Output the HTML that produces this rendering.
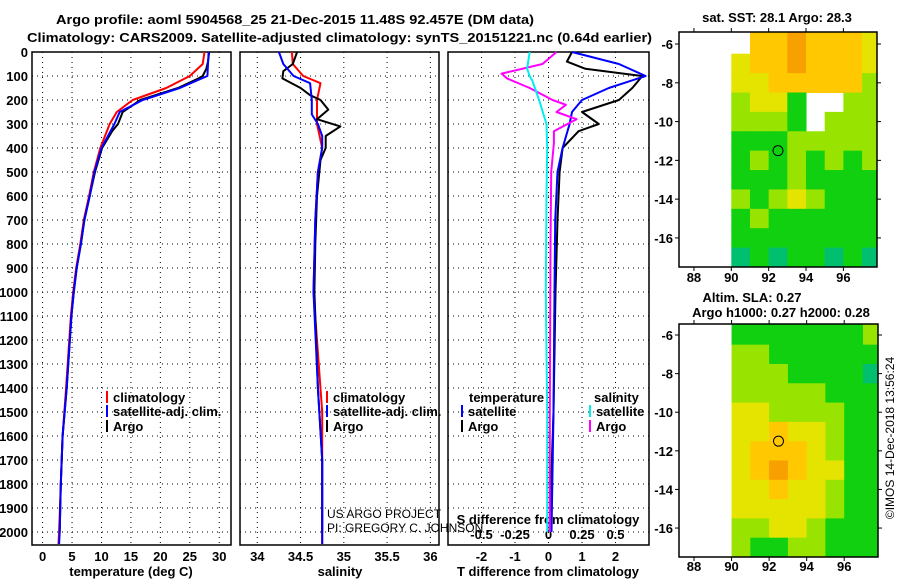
<!DOCTYPE html>
<html><head><meta charset="utf-8"><style>
html,body{margin:0;padding:0;background:#fff;}
svg{display:block;font-family:"Liberation Sans",Arial,sans-serif;}
.b{font-weight:bold;font-size:13px;}
</style></head><body>
<svg id="s" width="900" height="580" viewBox="0 0 900 580">
<text class="b" x="56" y="24" font-size="14" textLength="478" lengthAdjust="spacingAndGlyphs">Argo profile: aoml 5904568_25 21-Dec-2015 11.48S 92.457E (DM data)</text>
<text class="b" x="27" y="42" font-size="14" textLength="625" lengthAdjust="spacingAndGlyphs">Climatology: CARS2009. Satellite-adjusted climatology: synTS_20151221.nc (0.64d earlier)</text>
</svg>
<script>
// ---------- data ----------
const depthTicks=[0,100,200,300,400,500,600,700,800,900,1000,1100,1200,1300,1400,1500,1600,1700,1800,1900,2000];
const tempTicks=[0,5,10,15,20,25,30];
const salTicks=[34,34.5,35,35.5,36];
const tdiffTicks=[-2,-1,0,1,2];
const sdiffTicks=[-0.5,-0.25,0,0.25,0.5];
const sdiffTickLabels=["-0.5","-0.25","0","0.25","0.5"];
// temperature profiles
const tClimDepth=[0,50,100,150,200,250,300,400,500,600,700,800,900,1000,1100,1400,1600,1800,2000,2050];
const tClim=[27.5,27.2,25,21,15.3,12.6,11.4,9.8,8.7,7.9,7.0,6.4,5.7,5.2,4.8,4.0,3.4,3.1,2.8,2.7];
const tSatDepth=[0,50,100,110,150,200,250,300,400,500,600,700,800,900,1000,1100,1400,1600,1800,2000,2050];
const tSat=[28.2,28.1,28,27,23.3,17,13.1,12.2,10.0,8.8,8.0,7.1,6.5,5.8,5.3,4.9,4.1,3.4,3.1,2.9,2.8];
const tArgoDepth=[0,40,70,100,110,150,200,250,300,330,400,500,600,700,800,900,1000,1100,1400,1600,1800,2000];
const tArgo=[28.3,28.1,27.8,27.2,26.5,23.0,16.6,13.6,12.8,11.8,10.1,8.9,8.0,7.1,6.5,5.8,5.3,4.9,4.1,3.4,3.1,2.9];
// salinity profiles
const sClimDepth=[0,50,100,130,200,300,400,500,700,1000,1500,2050];
const sClim=[34.4,34.41,34.53,34.73,34.69,34.69,34.75,34.7,34.67,34.65,34.75,34.75];
const sSatDepth=[0,50,100,130,200,260,300,350,400,500,700,1000,1400,1700,2050];
const sSat=[34.25,34.3,34.42,34.61,34.63,34.63,34.7,34.75,34.75,34.7,34.67,34.65,34.7,34.75,34.75];
const sArgoDepth=[0,50,80,110,150,180,200,240,280,310,350,400,450,600,800,1000,1400,1700,2000];
const sArgo=[34.46,34.41,34.3,34.29,34.5,34.61,34.73,34.82,34.69,34.96,34.79,34.79,34.73,34.69,34.67,34.66,34.7,34.75,34.75];
// differences from climatology
const dTSatDepth=[0,50,100,150,200,250,300,400,500,700,1000,1500,2000];
const dTSat=[0.7,2.1,2.9,1.8,1.0,0.7,0.63,0.42,0.27,0.2,0.18,0.15,0.09];
const dTArgoDepth=[0,40,70,100,150,200,250,300,330,400,500,700,1000,1500,2000];
const dTArgo=[0.7,0.55,1.1,2.8,2.5,2.1,1.0,1.5,0.9,0.42,0.33,0.27,0.21,0.15,0.03];
const dSArgoDepth=[0,50,90,110,150,200,220,250,280,330,380,500,800,1500,2000];
const dSArgo=[0.06,-0.045,-0.35,-0.31,-0.14,0.03,0.13,0.06,0.21,0.04,0.04,0.02,0.015,0.01,0.01];
const dSSatDepth=[0,70,100,120,200,300,400,600,1000,1500,2000];
const dSSat=[-0.14,-0.16,-0.14,-0.12,-0.07,-0.015,-0.01,-0.015,-0.02,-0.01,-0.01];
// maps: 1-degree cells, lon 90..98, lat -5.5 .. -17.5 (null = no data)
const mapLons=[90,91,92,93,94,95,96,97];
const mapLats=[-5.5,-6.5,-7.5,-8.5,-9.5,-10.5,-11.5,-12.5,-13.5,-14.5,-15.5,-16.5];
const sstCells=[
[null,4,4,5,4,4,4,3],[3,4,4,5,4,4,4,3],[3,3,4,4,4,4,4,2],[2,3,3,1,null,null,2,2],
[2,2,2,1,null,2,2,2],[1,1,1,2,2,2,2,2],[1,2,1,2,1,2,1,2],[1,1,1,2,1,1,1,1],
[2,1,2,3,2,1,1,1],[1,2,1,1,1,1,1,1],[1,1,1,1,1,1,1,1],[0,1,0,1,1,0,1,0]];
const slaCells=[
[1,1,1,1,1,1,1,2],[2,2,1,1,1,1,1,1],[2,2,2,1,1,1,1,0],[2,2,2,2,2,1,1,1],
[3,3,2,2,2,2,1,1],[3,3,4,3,3,2,1,1],[3,4,4,4,3,2,1,1],[3,4,5,4,3,3,1,1],
[3,3,4,3,3,2,1,1],[3,3,3,3,3,2,1,1],[2,2,3,3,2,1,1,1],[2,1,1,2,2,1,1,1]];
const colorScale=["#00c070","#10d010","#98e400","#e4e400","#ffc800","#f8a000"];
const argoPos=[92.5,-11.5];
const mapLonTicks=[88,90,92,94,96];
const mapLatTicks=[-6,-8,-10,-12,-14,-16];

// ---------- drawing ----------
const S=document.getElementById('s');
const NS='http://www.w3.org/2000/svg';
function mk(tag,attrs,parent){const e=document.createElementNS(NS,tag);for(const k in attrs)e.setAttribute(k,attrs[k]);(parent||S).appendChild(e);return e;}
const top0=52,bot0=545;
const yD=d=>top0+d*0.24;
const P1={x0:32,x1:231,v0:-1.8,v1:32};
const P2={x0:240,x1:439,v0:33.8,v1:36.1};
const P3={x0:448,x1:649,v0:-3,v1:3};
const P3s={x0:448,x1:649,v0:-0.75,v1:0.75};
const xf=p=>v=>p.x0+(v-p.v0)/(p.v1-p.v0)*(p.x1-p.x0);
const x1f=xf(P1),x2f=xf(P2),x3f=xf(P3),x3sf=xf(P3s);

function panel(p,ticks,fx,name,labels){
  const g=mk('g',{});
  
  
  depthTicks.forEach(d=>{const l=mk('line',{x1:p.x0,x2:p.x1,y1:yD(d),y2:yD(d),stroke:'#000','stroke-width':1,'stroke-dasharray':'1,4'},g);
    });
  ticks.forEach((t,i)=>{const x=fx(t);const l=mk('line',{x1:x,x2:x,y1:top0,y2:bot0,stroke:'#000','stroke-width':1,'stroke-dasharray':'1,4'},g);
    
    if(labels){const tx=mk('text',{x:x,y:561,'text-anchor':'middle',class:'b'},g);tx.textContent=labels[i];
    }});
  const r=mk('rect',{x:p.x0,y:top0,width:p.x1-p.x0,height:bot0-top0,fill:'none',stroke:'#000','stroke-width':1.5},g);
  
  return g;
}
panel(P1,tempTicks,x1f,'temperature-panel',tempTicks.map(String));
panel(P2,salTicks,x2f,'salinity-panel',salTicks.map(String));
panel(P3,tdiffTicks,x3f,'difference-panel',tdiffTicks.map(String));
depthTicks.forEach(d=>{const t=mk('text',{x:28,y:yD(d)+5,'text-anchor':'end',class:'b'});t.textContent=d;
  });
[[131,'temperature (deg C)','temperature-axis-title'],[340,'salinity','salinity-axis-title'],[548,'T difference from climatology','t-difference-axis-title']].forEach(a=>{
  const t=mk('text',{x:a[0],y:576,'text-anchor':'middle',class:'b'});t.textContent=a[1];
  });
const sdt=mk('text',{x:548,y:524,'text-anchor':'middle',class:'b'});sdt.textContent='S difference from climatology';

sdiffTicks.forEach((v,i)=>{const t=mk('text',{x:x3sf(v),y:539,'text-anchor':'middle',class:'b'});t.textContent=sdiffTickLabels[i];
  });

function line(depths,vals,fx,color,name,w){
  const pts=depths.map((d,i)=>fx(vals[i]).toFixed(1)+','+yD(d).toFixed(1)).join(' ');
  const l=mk('polyline',{points:pts,fill:'none',stroke:color,'stroke-width':w||2,'stroke-linejoin':'round'});
  
}
line(tClimDepth,tClim,x1f,'#f00','temperature-climatology-line');
line(tArgoDepth,tArgo,x1f,'#000','temperature-argo-line');
line(tSatDepth,tSat,x1f,'#00f','temperature-satellite-line');
line(sClimDepth,sClim,x2f,'#f00','salinity-climatology-line');
line(sArgoDepth,sArgo,x2f,'#000','salinity-argo-line');
line(sSatDepth,sSat,x2f,'#00f','salinity-satellite-line');
line(dTArgoDepth,dTArgo,x3f,'#000','t-diff-argo-line');
line(dTSatDepth,dTSat,x3f,'#00f','t-diff-satellite-line');
line(dSArgoDepth,dSArgo,x3sf,'#f0f','s-diff-argo-line');
line(dSSatDepth,dSSat,x3sf,'#0ee','s-diff-satellite-line');

function legend(x,y,color,label,name){
  const g=mk('g',{});
  mk('rect',{x:x,y:y-11,width:2,height:12,fill:color},g);
  const t=mk('text',{x:x+7,y:y,class:'b'},g);t.textContent=label;
}
legend(106,402,'#f00','climatology','legend-temp-climatology');
legend(106,416,'#00f','satellite-adj. clim.','legend-temp-satellite');
legend(106,431,'#000','Argo','legend-temp-argo');
legend(326,402,'#f00','climatology','legend-sal-climatology');
legend(326,416,'#00f','satellite-adj. clim.','legend-sal-satellite');
legend(326,431,'#000','Argo','legend-sal-argo');
const lt=mk('text',{x:469,y:402,class:'b'});lt.textContent='temperature';
const ls=mk('text',{x:594,y:402,class:'b'});ls.textContent='salinity';
legend(461,416,'#00f','satellite','legend-tdiff-satellite');
legend(461,431,'#000','Argo','legend-tdiff-argo');
legend(589,416,'#0ee','satellite','legend-sdiff-satellite');
legend(589,431,'#f0f','Argo','legend-sdiff-argo');
const c1=mk('text',{x:327,y:518,'font-size':12});c1.textContent='US ARGO PROJECT';
const c2=mk('text',{x:327,y:532,'font-size':12});c2.textContent='PI: GREGORY C. JOHNSON';

function map(M,cells,name,xlblY){
  const lonX=v=>M.x0+(v-M.lon0)/(M.lon1-M.lon0)*(M.x1-M.x0);
  const latY=v=>M.y0+(M.lat0-v)/(M.lat0-M.lat1)*(M.y1-M.y0);
  const g=mk('g',{});
  const cp=mk('clipPath',{id:name+'-clip'},g);mk('rect',{x:M.x0,y:M.y0,width:M.x1-M.x0,height:M.y1-M.y0},cp);
  const cg=mk('g',{'clip-path':'url(#'+name+'-clip)'},g);
  cells.forEach((row,ri)=>row.forEach((v,ci)=>{if(v===null)return;
    const x=lonX(mapLons[ci]);let y=latY(mapLats[ri]);const yb=latY(mapLats[ri]-1);
    if(ri===0)y=M.y0;
    const r=mk('rect',{x:x,y:y,width:lonX(mapLons[ci]+1)-x+0.5,height:yb-y+0.5,fill:colorScale[v]},cg);
    }));
  const fr=mk('rect',{x:M.x0,y:M.y0,width:M.x1-M.x0,height:M.y1-M.y0,fill:'none',stroke:'#000','stroke-width':1.5},g);
  
  mapLonTicks.forEach(v=>{const x=lonX(v);mk('line',{x1:x,x2:x,y1:M.y1,y2:M.y1+4,stroke:'#000'},g);mk('line',{x1:x,x2:x,y1:M.y0,y2:M.y0-4,stroke:'#000'},g);
    const t=mk('text',{x:x,y:xlblY,'text-anchor':'middle',class:'b'},g);t.textContent=v;});
  mapLatTicks.forEach(v=>{const y=latY(v);mk('line',{x1:M.x0,x2:M.x0-4,y1:y,y2:y,stroke:'#000'},g);mk('line',{x1:M.x1,x2:M.x1+4,y1:y,y2:y,stroke:'#000'},g);
    const t=mk('text',{x:673,y:y+5,'text-anchor':'end',class:'b'},g);t.textContent=v;});
  const c=mk('circle',{cx:lonX(argoPos[0]),cy:latY(argoPos[1]),r:5,fill:'none',stroke:'#000','stroke-width':1},g);
  
}
map({x0:679,x1:877,y0:32,y1:267,lon0:87.2,lon1:97.8,lat0:-5.38,lat1:-17.5},sstCells,'sst-map',282);
map({x0:679,x1:878,y0:324,y1:557,lon0:87.2,lon1:97.8,lat0:-5.43,lat1:-17.5},slaCells,'sla-map',571);
const m1=mk('text',{x:777,y:22,'text-anchor':'middle',class:'b'});m1.textContent='sat. SST: 28.1 Argo: 28.3';
const m2=mk('text',{x:752,y:302,'text-anchor':'middle',class:'b'});m2.textContent='Altim. SLA: 0.27';
const m3=mk('text',{x:781,y:317,'text-anchor':'middle',class:'b'});m3.textContent='Argo h1000: 0.27 h2000: 0.28';
const cr=mk('text',{x:0,y:0,'text-anchor':'middle','font-size':12,transform:'translate(894,438) rotate(-90)'});cr.textContent='©IMOS 14-Dec-2018 13:56:24';

</script>
</body></html>
